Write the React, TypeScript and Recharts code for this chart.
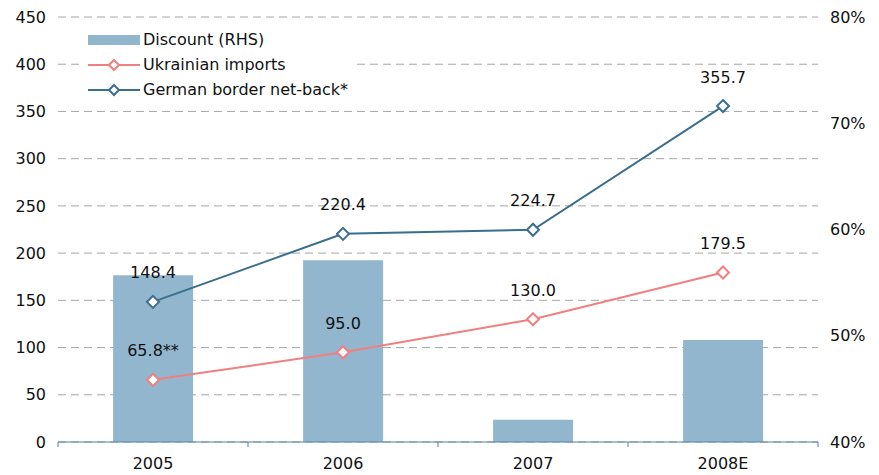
import React from "react";
import {
  ComposedChart,
  Bar,
  Line,
  XAxis,
  YAxis,
  CartesianGrid,
  LabelList,
} from "recharts";

const categories = ["2005", "2006", "2007", "2008E"];
const discountPct = [55.7, 57.1, 42.1, 49.6];
const ukrainianImports = [65.8, 95.0, 130.0, 179.5];
const germanNetback = [148.4, 220.4, 224.7, 355.7];
const ukrainianLabelSuffix = ["**", "", "", ""];
const leftTicks = [0, 50, 100, 150, 200, 250, 300, 350, 400, 450];
const rightTicks = [40, 50, 60, 70, 80];
const seriesNames = ["Discount (RHS)", "Ukrainian imports", "German border net-back*"];

const BAR_COLOR = "#93B6CF";
const UKR_COLOR = "#F07F7F";
const GER_COLOR = "#3A6E8F";
const AXIS_COLOR = "#4F81A6";
const FONT = "DejaVu Sans, Verdana, sans-serif";

const data = categories.map((c, i) => ({
  year: c,
  discount: discountPct[i],
  ukr: ukrainianImports[i],
  ger: germanNetback[i],
}));

const Diamond = (color: string) => (props: any) => {
  const { cx, cy } = props;
  if (cx == null || cy == null) return null;
  const r = 6;
  return (
    <path
      d={`M${cx},${cy - r} L${cx + r},${cy} L${cx},${cy + r} L${cx - r},${cy} Z`}
      fill="#fff"
      stroke={color}
      strokeWidth={2}
    />
  );
};

const makeLabel = (suffixes: string[]) => (props: any) => {
  const { x, y, value, index } = props;
  return (
    <text
      x={x}
      y={y - 29}
      textAnchor="middle"
      dominantBaseline="central"
      fontFamily={FONT}
      fontSize={16}
      fill="#111"
    >
      {Number(value).toFixed(1) + (suffixes[index] || "")}
    </text>
  );
};

const XTick = (props: any) => {
  const { x, y, payload, index } = props;
  const half = 95;
  return (
    <g>
      <line x1={x - half} y1={y} x2={x - half} y2={y + 5} stroke={AXIS_COLOR} />
      {index === categories.length - 1 && (
        <line x1={x + half} y1={y} x2={x + half} y2={y + 5} stroke={AXIS_COLOR} />
      )}
      <text
        x={x}
        y={y + 27}
        textAnchor="middle"
        fontFamily={FONT}
        fontSize={16}
        fill="#111"
      >
        {payload.value}
      </text>
    </g>
  );
};

const LegendOverlay = () => {
  const rows = [
    { name: seriesNames[0], type: "bar", color: BAR_COLOR },
    { name: seriesNames[1], type: "line", color: UKR_COLOR },
    { name: seriesNames[2], type: "line", color: GER_COLOR },
  ];
  return (
    <div
      style={{
        position: "absolute",
        left: 82,
        top: 27,
        background: "#fff",
        padding: "0 6px 0 6px",
      }}
    >
      {rows.map((r) => (
        <div
          key={r.name}
          style={{
            display: "flex",
            alignItems: "center",
            height: 25,
            fontFamily: FONT,
            fontSize: 16,
            color: "#111",
            whiteSpace: "nowrap",
          }}
        >
          <svg width={52} height={14} style={{ marginRight: 3 }}>
            {r.type === "bar" ? (
              <rect x={0} y={2} width={52} height={10} fill={r.color} />
            ) : (
              <g>
                <line x1={0} y1={7} x2={52} y2={7} stroke={r.color} strokeWidth={2} />
                <path
                  d="M26,2 L31,7 L26,12 L21,7 Z"
                  fill="#fff"
                  stroke={r.color}
                  strokeWidth={2}
                />
              </g>
            )}
          </svg>
          <span>{r.name}</span>
        </div>
      ))}
    </div>
  );
};

export default function App() {
  return (
    <div style={{ position: "absolute", left: 0, top: 0, width: 879, height: 475, background: "#fff" }}>
      <ComposedChart
        width={879}
        height={475}
        data={data}
        margin={{ top: 17, right: 0, left: 0, bottom: 0 }}
        barCategoryGap="29%"
      >
        <CartesianGrid
          vertical={false}
          yAxisId="left"
          stroke="#A6A6A6"
          strokeDasharray="8 5"
        />
        <XAxis
          dataKey="year"
          height={33}
          stroke={AXIS_COLOR}
          tickLine={false}
          tickSize={0}
          tickMargin={0}
          tick={<XTick />}
          interval={0}
        />
        <YAxis
          yAxisId="left"
          domain={[0, 450]}
          ticks={leftTicks}
          width={58}
          axisLine={false}
          tickLine={false}
          tickSize={0}
          tickMargin={12}
          tick={{ fontFamily: FONT, fontSize: 16, fill: "#111" }}
          allowDataOverflow
        />
        <YAxis
          yAxisId="right"
          orientation="right"
          domain={[40, 80]}
          ticks={rightTicks}
          width={61}
          axisLine={false}
          tickLine={false}
          tickSize={0}
          tickMargin={12}
          tickFormatter={(v: number) => `${v}%`}
          tick={{ fontFamily: FONT, fontSize: 16, fill: "#111" }}
          allowDataOverflow
        />
        <Bar
          yAxisId="right"
          dataKey="discount"
          name={seriesNames[0]}
          fill={BAR_COLOR}
          isAnimationActive={false}
        />
        <Line
          yAxisId="left"
          dataKey="ukr"
          name={seriesNames[1]}
          stroke={UKR_COLOR}
          strokeWidth={2}
          dot={Diamond(UKR_COLOR)}
          activeDot={false}
          isAnimationActive={false}
        >
          <LabelList dataKey="ukr" content={makeLabel(ukrainianLabelSuffix)} />
        </Line>
        <Line
          yAxisId="left"
          dataKey="ger"
          name={seriesNames[2]}
          stroke={GER_COLOR}
          strokeWidth={2}
          dot={Diamond(GER_COLOR)}
          activeDot={false}
          isAnimationActive={false}
        >
          <LabelList dataKey="ger" content={makeLabel(["", "", "", ""])} />
        </Line>
      </ComposedChart>
      <LegendOverlay />
    </div>
  );
}
